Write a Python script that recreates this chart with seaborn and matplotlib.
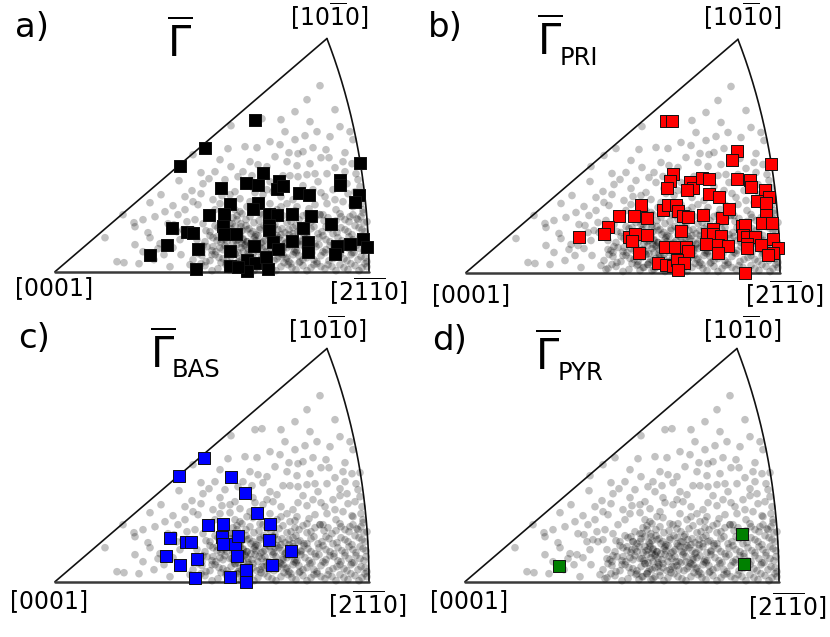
import numpy as np
import matplotlib
matplotlib.use("Agg")
import matplotlib.pyplot as plt
import seaborn as sns

sns.set_theme(style="white")
plt.rcParams["font.family"] = ["DejaVu Sans"]
plt.rcParams["mathtext.fontset"] = "dejavusans"
plt.rcParams["text.color"] = "black"

# projection coordinates: [0001] at (0, 0), [2-1-10] at (R, 0), [10-10] at (R cos30, R*K sin30)
R = 314
K = 1.485

# all grains (grey background, same in every panel)
gray_pts = [
    (176, 146), (173, 123), (150, 124), (138, 117), (125, 106), (176, 105), (146, 99), (154, 93),
    (148, 88), (124, 91), (137, 81), (165, 84), (190, 90), (175, 77), (180, 80), (106, 77),
    (95, 69), (143, 67), (160, 62), (153, 57), (165, 68), (175, 69), (180, 62), (192, 65),
    (68, 57), (79, 49), (80, 45), (123, 57), (113, 48), (119, 47), (93, 39), (95, 34),
    (50, 34), (105, 28), (112, 27), (103, 23), (109, 17), (126, 17), (142, 32), (151, 41),
    (128, 42), (133, 40), (138, 42), (166, 45), (168, 40), (162, 35), (167, 32), (177, 48),
    (182, 52), (187, 58), (158, 25), (142, 23), (147, 20), (157, 17), (62, 10), (69, 9),
    (135, 7), (140, 3), (172, 8), (177, 5), (180, 18), (185, 13), (187, 28), (192, 42),
    (188, 32), (182, 27), (175, 40), (180, 35), (172, 30), (177, 23), (182, 8), (188, 3),
    (193, 15), (193, 23), (168, 22), (80, 27),
    (265, 186), (252, 172), (280, 162), (200, 152), (207, 153), (226, 152), (250, 136), (240, 132),
    (225, 127), (202, 124), (258, 124), (234, 119), (243, 118), (248, 120), (271, 122), (290, 119),
    (298, 132), (266, 114), (274, 114), (232, 110), (203, 107), (208, 99), (197, 96), (215, 90),
    (228, 96), (235, 96), (243, 95), (252, 97), (263, 90), (272, 98), (285, 93), (290, 100),
    (297, 108), (305, 109), (301, 98), (303, 92), (222, 87), (200, 79), (208, 77), (218, 80),
    (243, 79), (252, 76), (266, 79), (278, 82), (285, 86), (293, 78), (300, 80), (307, 75),
    (195, 70), (215, 68), (232, 68), (242, 65), (260, 67), (272, 68), (288, 70), (298, 65),
    (308, 62), (205, 58), (222, 62), (235, 60), (252, 58), (265, 57), (285, 58), (295, 55),
    (303, 52), (312, 50),
    (130, 62), (138, 70), (146, 78), (158, 72), (167, 76), (185, 73), (198, 84), (212, 82),
    (226, 75), (238, 72), (248, 86), (258, 82), (270, 75), (280, 72), (292, 88), (305, 85),
    (306, 68), (188, 100), (195, 110), (212, 105), (220, 115), (242, 106), (255, 108), (260, 98),
    (280, 104), (288, 110), (295, 140), (262, 140), (275, 135), (230, 140), (215, 130), (190, 125),
    (165, 112), (160, 100), (170, 92), (183, 95), (130, 75), (118, 66), (110, 60), (100, 55),
    (88, 52), (140, 52), (148, 48), (132, 50), (125, 32), (118, 24), (99, 12), (88, 20),
    (84, 8), (115, 5), (122, 40), (255, 150), (285, 145), (240, 160),
    (142, 4), (150, 6), (163, 3), (171, 7), (178, 5), (186, 2), (195, 6), (203, 4), (209, 8),
    (217, 3), (226, 5), (233, 7), (241, 2), (248, 6), (256, 4), (262, 8), (270, 3), (277, 5),
    (285, 7), (293, 2), (300, 6), (307, 4), (312, 5),
    (138, 12), (147, 16), (155, 11), (160, 17), (168, 13), (176, 15), (183, 10), (190, 14),
    (198, 18), (205, 12), (212, 16), (219, 11), (224, 15), (231, 13), (238, 17), (245, 10),
    (252, 14), (259, 12), (266, 16), (274, 11), (282, 15), (289, 13), (296, 17), (303, 12), (310, 14),
    (145, 22), (152, 25), (161, 20), (170, 26), (179, 21), (186, 24), (193, 19), (200, 27),
    (207, 23), (214, 20), (221, 25), (228, 22), (235, 26), (242, 21), (250, 24), (257, 19),
    (264, 27), (271, 22), (279, 25), (286, 20), (294, 23), (301, 26), (309, 21),
    (150, 30), (158, 34), (166, 29), (174, 35), (181, 31), (188, 33), (196, 28), (203, 36),
    (210, 32), (217, 30), (224, 34), (231, 29), (238, 35), (246, 31), (253, 33), (260, 28),
    (268, 36), (275, 30), (283, 34), (290, 29), (298, 32), (305, 35), (311, 31),
    (155, 40), (163, 44), (172, 38), (180, 45), (187, 41), (194, 43), (201, 37), (209, 46),
    (216, 40), (223, 42), (230, 39), (238, 44), (245, 41), (252, 38), (259, 45), (267, 40),
    (274, 43), (282, 39), (290, 42), (297, 37), (304, 44), (310, 40),
    (170, 50), (178, 54), (186, 48), (195, 55), (204, 51), (212, 53), (220, 47), (228, 56),
    (236, 50), (244, 52), (252, 49), (260, 54), (269, 51), (277, 48), (286, 55), (294, 50),
    (302, 53), (309, 49),
    (185, 60), (198, 64), (213, 58), (226, 65), (240, 61), (254, 63), (268, 57), (281, 62),
    (297, 66), (308, 59),
    (192, 30), (200, 35), (210, 25), (218, 40), (226, 18), (234, 33), (205, 44), (188, 20),
    (214, 12), (230, 28), (198, 14), (222, 36), (240, 22), (185, 38), (246, 30),
    (146, 8), (157, 1), (166, 9), (174, 2), (182, 8), (190, 5), (199, 1), (206, 9), (213, 5),
    (221, 1), (229, 9), (237, 4), (244, 9), (252, 1), (259, 7), (266, 5), (273, 7), (281, 1),
    (289, 4), (296, 8), (304, 1), (310, 8),
    (143, 18), (151, 10), (164, 14), (172, 11), (180, 18), (187, 12), (194, 17), (202, 11),
    (209, 15), (216, 19), (222, 13), (228, 17), (234, 10), (241, 19), (248, 12), (255, 18),
    (262, 10), (270, 19), (278, 13), (285, 17), (292, 11), (299, 19), (306, 15), (312, 10),
    (148, 26), (157, 21), (165, 24), (175, 23), (183, 19), (190, 27), (197, 22), (204, 25),
    (211, 20), (218, 27), (225, 19), (232, 24), (239, 20), (246, 27), (254, 21), (261, 25),
    (268, 20), (275, 26), (283, 21), (290, 26), (297, 19), (305, 23), (311, 25),
    (155, 36), (162, 31), (170, 33), (178, 29), (185, 35), (192, 30), (199, 33), (206, 29),
    (213, 36), (220, 34), (227, 31), (234, 37), (242, 29), (249, 36), (256, 30), (264, 34),
    (271, 32), (279, 28), (287, 31), (294, 35), (301, 29), (308, 33),
    (160, 46), (168, 40), (176, 43), (184, 39), (191, 46), (198, 40), (205, 42), (212, 38),
    (219, 45), (226, 37), (234, 42), (241, 46), (249, 38), (256, 43), (263, 38), (271, 45),
    (278, 38), (286, 44), (293, 40), (300, 46), (307, 42),
    (175, 48), (182, 56), (191, 52), (199, 49), (208, 57), (216, 50), (224, 53), (232, 49),
    (240, 54), (248, 56), (256, 50), (265, 57), (273, 54), (281, 51), (290, 52), (298, 57),
    (306, 55),
    (190, 26), (196, 38), (203, 20), (208, 30), (215, 35), (221, 20), (227, 43), (232, 14),
    (238, 38), (244, 16), (186, 45), (195, 10), (212, 44), (228, 24), (236, 8), (201, 31),
    (219, 29), (207, 15), (183, 32), (243, 40),
]

# grains selected for each quantity
gamma_pts = [
    (200, 152), (150, 124), (125, 106), (305, 109), (208, 99), (191, 89), (203, 87), (166, 84),
    (224, 91), (222, 83), (228, 86), (285, 92), (285, 87), (244, 79), (254, 77), (304, 77),
    (300, 70), (175, 68), (203, 69), (198, 63), (154, 57), (169, 58), (214, 58), (222, 57),
    (237, 58), (256, 56), (276, 48), (117, 44), (132, 40), (138, 39), (168, 46), (169, 38),
    (181, 38), (214, 47), (214, 42), (248, 44), (112, 27), (95, 17), (143, 23), (175, 21),
    (199, 26), (218, 30), (223, 23), (237, 31), (253, 30), (253, 20), (282, 26), (280, 18),
    (295, 28), (308, 33), (312, 25), (141, 3), (175, 6), (192, 12), (200, 9), (192, 1),
    (211, 15), (213, 3), (183, 5),
]
pri_pts = [
    (200, 152), (206, 152), (271, 122), (266, 113), (305, 109), (207, 99), (204, 92), (201, 85),
    (224, 91), (227, 85), (221, 83), (236, 95), (243, 94), (271, 94), (284, 93), (285, 86),
    (243, 79), (253, 76), (299, 83), (303, 76), (291, 72), (300, 70), (175, 68), (197, 63),
    (202, 68), (210, 68), (212, 62), (217, 57), (222, 56), (168, 57), (181, 55), (153, 57),
    (237, 58), (256, 55), (263, 64), (300, 58), (296, 50), (306, 50), (142, 46), (138, 39),
    (113, 36), (163, 36), (169, 39), (166, 32), (181, 38), (215, 42), (276, 47), (279, 48),
    (247, 44), (241, 39), (247, 39), (255, 37), (277, 38), (281, 36), (289, 36), (307, 34),
    (173, 20), (199, 26), (209, 26), (220, 26), (222, 22), (240, 29), (252, 28), (262, 27),
    (252, 20), (281, 29), (281, 25), (295, 28), (312, 25), (307, 20), (302, 18), (192, 10),
    (200, 8), (207, 7), (211, 13), (218, 10), (212, 3), (279, 0),
]
bas_pts = [
    (149, 124), (124, 106), (176, 105), (190, 89), (202, 69), (215, 58), (153, 57), (168, 58),
    (115, 44), (131, 40), (136, 40), (167, 45), (168, 38), (180, 38), (183, 46), (214, 42),
    (111, 26), (142, 23), (182, 26), (236, 31), (125, 17), (217, 17), (191, 12), (175, 5),
    (140, 4), (191, 0),
]
pyr_pts = [(94, 16), (277, 48), (279, 18)]

panel_letters = ["a)", "b)", "c)", "d)"]
panel_subs = ["", "PRI", "BAS", "PYR"]
panel_points = [gamma_pts, pri_pts, bas_pts, pyr_pts]
square_colors = ["#000000", "#ff0000", "#0000ff", "#008000"]
pole_labels = [r"$\mathrm{[0001]}$", r"$\mathrm{[2\overline{1}\overline{1}0]}$",
               r"$\mathrm{[10\overline{1}0]}$"]

# layout of the four panels (pixels of the 830x637 canvas)
W, H = 830, 637
origins = [(55, 271.7), (466, 272.5), (55, 581.7), (465, 581.7)]
corners = [(0, 0), (415, 0), (0, 318.5), (415, 318.5)]
gamma_xy = [(112, 214.7), (71, 217.5), (95, 213.7), (70, 211.7)]
sub_xy = [None, (94, 207.5), (117, 204.7), (93, 201.7)]
letter_xy = [(-40, 234.7), (-38, 235.5), (-37, 233.7), (-33, 232)]
label0_xy = [(-1.5, -24.7), (4, -30.9), (-7, -27.7), (3, -27.7)]
label1_xy = [(313, -29.7), (318, -31.5), (312, -32.3), (322, -34.7)]
label2_xy = [(274, 246), (276, 246), (272, 243), (277, 243)]

gu, gv = np.array(gray_pts, dtype=float).T
t = np.linspace(0, np.pi / 6, 200)
arc_u, arc_v = R * np.cos(t), R * K * np.sin(t)

fig = plt.figure(figsize=(W / 100, H / 100), dpi=100)

for i in range(4):
    x0, y0 = origins[i]
    cx, cy = corners[i]
    ax = fig.add_axes([cx / W, 1 - (cy + 318.5) / H, 415 / W, 318.5 / H])
    ax.set_xlim(cx - x0, cx + 415 - x0)
    ax.set_ylim(y0 - cy - 318.5, y0 - cy)
    ax.axis("off")

    # triangle outline
    ax.plot([0, arc_u[-1]], [0, arc_v[-1]], color="#111111", lw=1.2, zorder=1)
    ax.plot(arc_u, arc_v, color="#111111", lw=1.2, zorder=1)
    ax.plot([0, R], [0, 0], color="#3a3a3a", lw=1.8, zorder=1)

    sns.scatterplot(x=gu, y=gv, ax=ax, color="black", alpha=0.24, s=30,
                    edgecolor="none", linewidth=0, zorder=2, legend=False)
    su, sv = np.array(panel_points[i], dtype=float).T
    sns.scatterplot(x=su, y=sv, ax=ax, color=square_colors[i], marker="s", s=78,
                    edgecolor="#111111", linewidth=0.7, zorder=3, legend=False)

    ax.text(*letter_xy[i], panel_letters[i], fontsize=24.5, ha="left", va="baseline")
    ax.text(*gamma_xy[i], r"$\overline{\Gamma}$", fontsize=30, ha="left", va="baseline")
    if sub_xy[i] is not None:
        ax.text(*sub_xy[i], panel_subs[i], fontsize=17.5, ha="left", va="baseline")

    ax.text(*label0_xy[i], pole_labels[0], fontsize=17, ha="center", va="baseline")
    ax.text(*label1_xy[i], pole_labels[1], fontsize=17, ha="center", va="baseline")
    ax.text(*label2_xy[i], pole_labels[2], fontsize=17, ha="center", va="baseline")

fig.savefig("out.png", dpi=100, facecolor="white")
